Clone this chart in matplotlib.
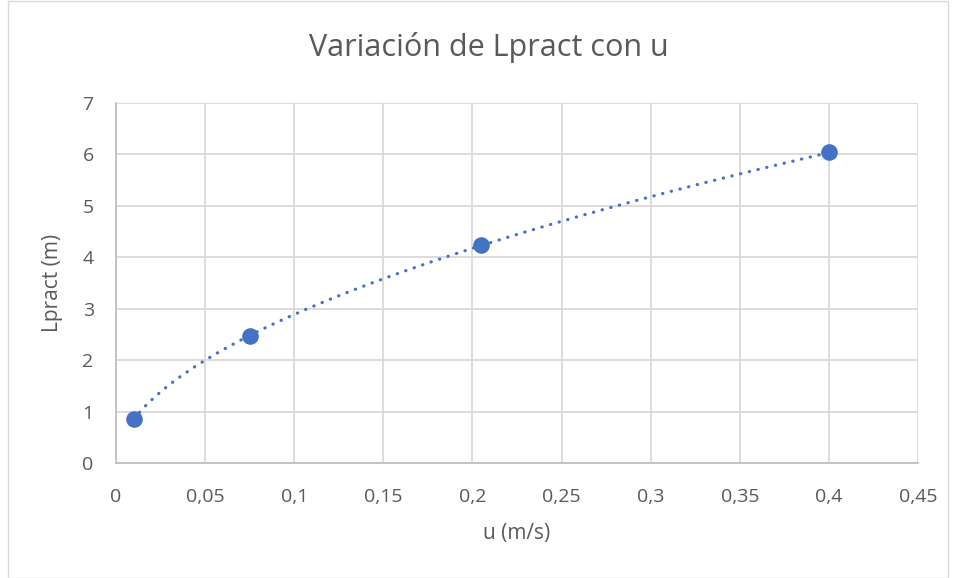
import numpy as np
import matplotlib
matplotlib.use("Agg")
from matplotlib import pyplot as plt
from matplotlib.patches import Rectangle
from matplotlib.ticker import FuncFormatter

u = [0.01, 0.075, 0.205, 0.4]
lpract = [0.85, 2.47, 4.23, 6.04]

plt.rcParams['font.family'] = ['Open Sans', 'DejaVu Sans']
txt = '#595959'
grid = '#d9d9d9'

fig = plt.figure(figsize=(9.56, 5.78), dpi=100)
ax = fig.add_axes([0.1213, 0.199, 0.839, 0.623])

# linea de tendencia potencial (como en Excel)
b, loga = np.polyfit(np.log(u), np.log(lpract), 1)
xs = np.linspace(min(u), max(u), 200)
ax.plot(xs, np.exp(loga) * xs ** b, color='#4472c4', lw=2.3, linestyle=(0, (0.1, 2.7)),
        dash_capstyle='round', zorder=3)
ax.scatter(u, lpract, s=120, color='#4472c4', zorder=4)

ax.set_xlim(0, 0.45)
ax.set_ylim(0, 7)
ax.set_xticks(np.arange(0, 0.451, 0.05))
ax.set_yticks(range(0, 8))
coma = FuncFormatter(lambda v, p: ('%g' % round(v, 2)).replace('.', ','))
ax.xaxis.set_major_formatter(coma)
ax.grid(True, color=grid, lw=1.3)
ax.set_axisbelow(True)
for s in ['top', 'right']:
    ax.spines[s].set_visible(False)
for s in ['left', 'bottom']:
    ax.spines[s].set_color('#bfbfbf')
    ax.spines[s].set_linewidth(1.3)
ax.tick_params(length=0, labelsize=14, labelcolor=txt)
ax.tick_params(axis='x', pad=18)
ax.tick_params(axis='y', pad=16)

fig.text(0.5115, 0.917, 'Variación de Lpract con u', fontsize=22, color=txt,
         ha='center', va='center')
ax.set_xlabel('u (m/s)', fontsize=15, color=txt, labelpad=12)
ax.set_ylabel('Lpract (m)', fontsize=15, color=txt, labelpad=14)

fig.patches.append(Rectangle((0.008, 0.0), 0.984, 0.998, transform=fig.transFigure,
                             fill=False, edgecolor='#d9d9d9', lw=1))

fig.savefig('out.png', dpi=100)
